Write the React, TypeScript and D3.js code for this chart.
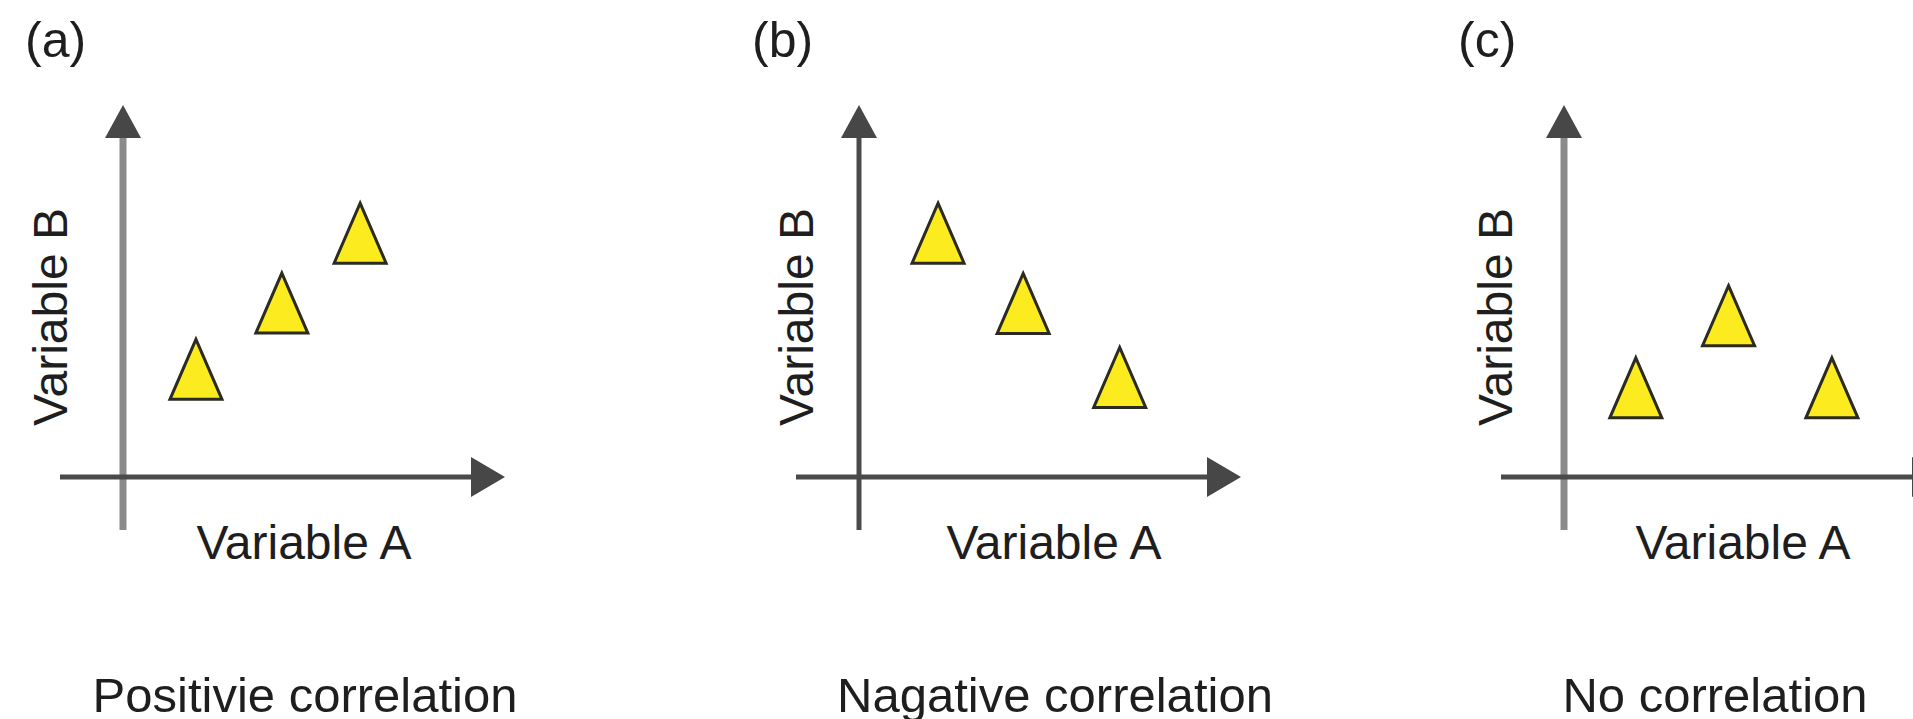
import React from "react";
import * as d3 from "d3";

// ---- Data ----
const panelLetters = ["(a)", "(b)", "(c)"];
const panelTitles = ["Positivie correlation", "Nagative correlation", "No correlation"];
const xLabel = "Variable A";
const yLabel = "Variable B";

const positiveA = [1.92, 4.18, 6.24];
const positiveB = [2.91, 4.7, 6.59];
const negativeA = [2.08, 4.32, 6.86];
const negativeB = [6.59, 4.69, 2.69];
const noneA = [1.89, 4.33, 7.05];
const noneB = [2.41, 4.36, 2.41];

const seriesA = [positiveA, negativeA, noneA];
const seriesB = [positiveB, negativeB, noneB];

// ---- Layout ----
const W = 1913;
const H = 719;
const originX = [123, 859, 1564];
const originY = 477;
const yAxisStyle = [
  { color: "#8b8b8b", width: 7 },
  { color: "#4a4a4a", width: 5 },
  { color: "#8b8b8b", width: 7 },
];
const labelACenter = [181, 195, 179];
const titleCenter = [182, 196, 151];
const letterOffset = [-98, -107, -106];
const yLabelOffset = [-56, -46, -52];
const FONT = "'Liberation Sans', Arial, Helvetica, sans-serif";
const TEXT = "#1e1e1e";
const DARK = "#4a4a4a";
const triW = 52;
const triH = 60;

function trianglePath(cx: number, cy: number) {
  const p = d3.path();
  p.moveTo(cx, cy - triH / 2);
  p.lineTo(cx + triW / 2, cy + triH / 2);
  p.lineTo(cx - triW / 2, cy + triH / 2);
  p.closePath();
  return p.toString();
}

function Panel({ i }: { i: number }) {
  const ox = originX[i];
  const x = d3.scaleLinear().domain([0, 10]).range([ox, ox + 380]);
  const y = d3.scaleLinear().domain([0, 10]).range([originY, originY - 370]);
  const yTop = y(10) - 2;
  const xEnd = x(10) + 2;
  const yArrow = d3.path();
  yArrow.moveTo(ox, yTop);
  yArrow.lineTo(ox + 18, yTop + 33);
  yArrow.lineTo(ox - 18, yTop + 33);
  yArrow.closePath();
  const xArrow = d3.path();
  xArrow.moveTo(xEnd, originY);
  xArrow.lineTo(xEnd - 34, originY - 20);
  xArrow.lineTo(xEnd - 34, originY + 20);
  xArrow.closePath();
  const pts = d3.zip(seriesA[i], seriesB[i]);
  return (
    <g>
      <text x={ox + letterOffset[i]} y={57} fontSize={50} fontFamily={FONT} fill={TEXT}>
        {panelLetters[i]}
      </text>
      {/* y axis */}
      <line x1={ox} x2={ox} y1={originY + 53} y2={yTop + 30} stroke={yAxisStyle[i].color} strokeWidth={yAxisStyle[i].width} />
      <path d={yArrow.toString()} fill="#474747" />
      {/* x axis */}
      <line x1={ox - 63} x2={xEnd - 30} y1={originY} y2={originY} stroke={DARK} strokeWidth={5} />
      <path d={xArrow.toString()} fill="#474747" />
      {pts.map(([a, b], k) => (
        <path key={k} d={trianglePath(x(a), y(b))} fill="#fbeb1f" stroke="#2b2b22" strokeWidth={3} strokeLinejoin="miter" />
      ))}
      <text x={ox + labelACenter[i]} y={559} fontSize={48} fontFamily={FONT} fill={TEXT} textAnchor="middle">
        {xLabel}
      </text>
      <text
        transform={`translate(${ox + yLabelOffset[i]},317) rotate(-90)`}
        fontSize={48}
        fontFamily={FONT}
        fill={TEXT}
        textAnchor="middle"
      >
        {yLabel}
      </text>
      <text x={ox + titleCenter[i]} y={712} fontSize={49} fontFamily={FONT} fill={TEXT} textAnchor="middle">
        {panelTitles[i]}
      </text>
    </g>
  );
}

export default function App() {
  return (
    <svg
      width={W}
      height={H}
      viewBox={`0 0 ${W} ${H}`}
      style={{ position: "fixed", top: 0, left: 0, background: "#fff" }}
    >
      <rect x={0} y={0} width={W} height={H} fill="#fff" />
      {[0, 1, 2].map((i) => (
        <Panel key={i} i={i} />
      ))}
    </svg>
  );
}
